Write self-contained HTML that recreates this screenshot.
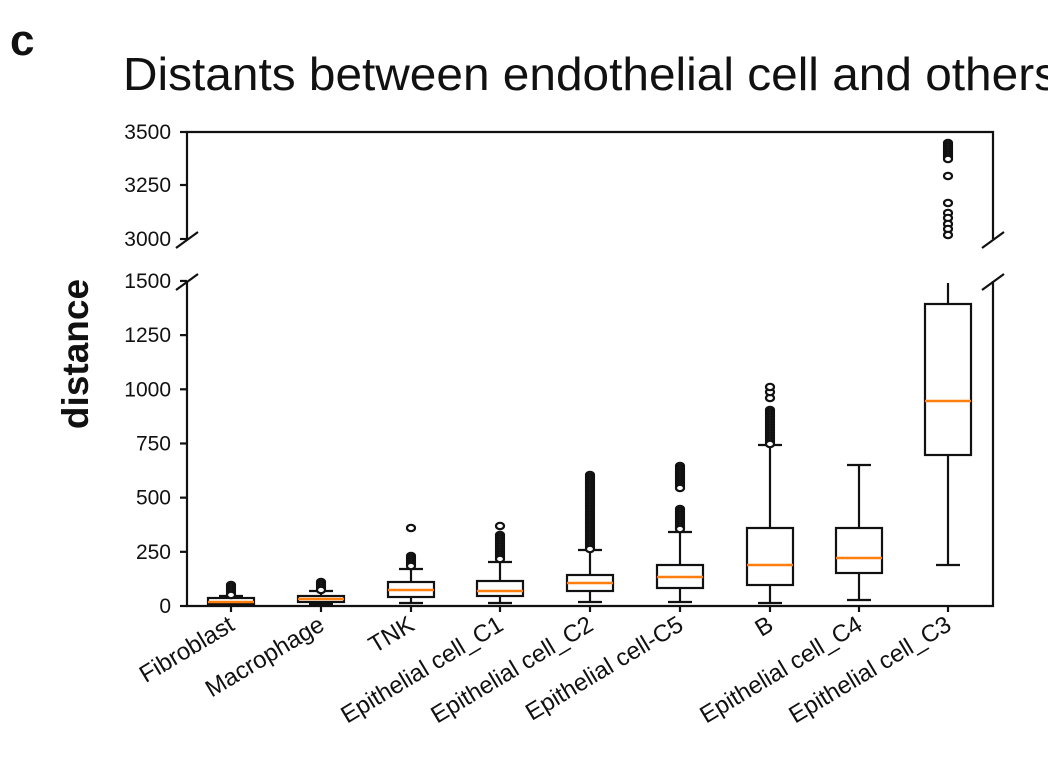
<!DOCTYPE html>
<html><head><meta charset="utf-8"><style>body{margin:0;background:#fff}svg{display:block}text{font-family:"Liberation Sans",Arial,sans-serif;fill:#111}</style></head>
<body>
<svg id="s" width="1048" height="777" viewBox="0 0 1048 777" xmlns="http://www.w3.org/2000/svg">
<text x="10" y="55" font-size="44" font-weight="bold">c</text>
<text x="123" y="90" font-size="46" textLength="935" lengthAdjust="spacingAndGlyphs">Distants between endothelial cell and others</text>
<text transform="translate(88,354) rotate(-90)" font-size="37" font-weight="bold" text-anchor="middle">distance</text>
<g stroke="#111" stroke-width="2.2" fill="none">
<path d="M187,239 V132 H993 V239"/>
<path d="M187,281 V606 H993 V281"/>
<path d="M176,248 L198,232 M176,290 L198,274 M982,248 L1004,232 M982,290 L1004,274"/>
</g>
<g id="boxes"></g>
</svg>
<script>
var ns="http://www.w3.org/2000/svg",s=document.getElementById('s');
function el(t,a,p,txt){var e=document.createElementNS(ns,t);for(var k in a)e.setAttribute(k,a[k]);if(txt!==undefined)e.textContent=String(txt);(p||s).appendChild(e);return e;}
[[3500,132],[3250,185],[3000,239]].forEach(function(v){el('line',{x1:180,x2:187,y1:v[1],y2:v[1],stroke:'#111','stroke-width':2.2});el('text',{x:171,y:v[1]+7,'font-size':21,'text-anchor':'end'},s,v[0]);});
[0,250,500,750,1000,1250,1500].forEach(function(v){var y=606-0.2167*v;el('line',{x1:180,x2:187,y1:y,y2:y,stroke:'#111','stroke-width':2.2});el('text',{x:171,y:y+7,'font-size':21,'text-anchor':'end'},s,v);});
var B=[
["Fibroblast",231,598,604,602,596,605,[[585,595]]],
["Macrophage",321,596,602,599,591,604,[[582,590]]],
["TNK",411,582,597,590,569,603,[[556,567],[528,528]]],
["Epithelial cell_C1",500,581,596,591,562,603,[[535,560],[526,526]]],
["Epithelial cell_C2",590,575,591,583,550,602,[[475,549]]],
["Epithelial cell-C5",680,565,588,577,532,602,[[509,530],[466,489]]],
["B",770,528,585,565,445,603,[[410,444],[398,398],[392,392],[387,387]]],
["Epithelial cell_C4",859,528,573,558,465,600,[]],
["Epithelial cell_C3",948,304,455,401,283,565,[]]
];
var g=document.getElementById('boxes');
function oc(x,y){el('ellipse',{cx:x,cy:y,rx:4,ry:3.2,fill:'#fff',stroke:'#111','stroke-width':2.2},g);}
B.forEach(function(b){var x=b[1],w=23;
el('line',{x1:x,x2:x,y1:606,y2:612,stroke:'#111','stroke-width':2.2},g);
el('line',{x1:x,x2:x,y1:b[5],y2:b[2],stroke:'#111','stroke-width':2.2},g);
el('line',{x1:x,x2:x,y1:b[3],y2:b[6],stroke:'#111','stroke-width':2.2},g);
if(b[0]!="Epithelial cell_C3")el('line',{x1:x-12,x2:x+12,y1:b[5],y2:b[5],stroke:'#111','stroke-width':2.2},g);
el('line',{x1:x-12,x2:x+12,y1:b[6],y2:b[6],stroke:'#111','stroke-width':2.2},g);
el('rect',{x:x-w,y:b[2],width:2*w,height:b[3]-b[2],fill:'none',stroke:'#111','stroke-width':2.2},g);
el('line',{x1:x-w,x2:x+w,y1:b[4],y2:b[4],stroke:'#ff7f0e','stroke-width':2.5},g);
b[7].forEach(function(r){for(var y=r[0];y<=r[1];y+=2)oc(x,y);});
el('text',{transform:'translate('+(x+5)+',629) rotate(-31)','font-size':24,'text-anchor':'end'},s,b[0]);
});
[[143,160],[176,176],[203,203],[213,213],[218,218],[224,224],[229,229],[235,235]].forEach(function(r){for(var y=r[0];y<=r[1];y+=2)oc(948,y);});
</script>
</body></html>
